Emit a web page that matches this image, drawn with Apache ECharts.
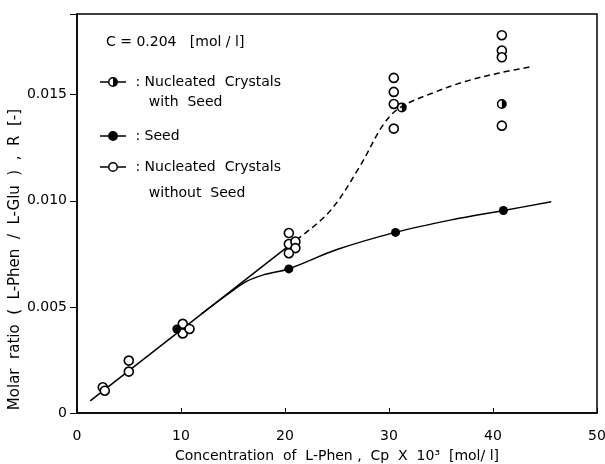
<!DOCTYPE html>
<html>
<head>
<meta charset="utf-8">
<script src="https://cdn.jsdelivr.net/npm/echarts@6/dist/echarts.min.js"></script>
<style>
  html, body { margin: 0; padding: 0; background: #fff; }
  #chart { width: 605px; height: 464px; }
</style>
</head>
<body>
<div id="chart"></div>
<script>
// measured points, x = Cp x 10^3 [mol/l], y = R [-]
const withoutSeedPoints = [
  [2.48, 0.00121], [2.67, 0.00105],
  [4.98, 0.00247], [4.98, 0.00195],
  [10.17, 0.0042], [10.17, 0.00375], [10.82, 0.00396],
  [20.37, 0.00848], [20.37, 0.00796], [21.0, 0.00808], [21.0, 0.00777], [20.37, 0.00753],
  [30.46, 0.01579], [30.46, 0.01513], [30.46, 0.01456], [30.46, 0.0134],
  [40.85, 0.0178], [40.85, 0.01708], [40.85, 0.01676], [40.85, 0.01354]
];
const seedPoints = [[9.6, 0.00396], [20.37, 0.00679], [30.63, 0.00851], [41.0, 0.00954]];
const withSeedPoints = [[31.23, 0.0144], [40.85, 0.01456]];

// hand-drawn trend curves
const linearCurve = [[1.27, 0.00057], [21.1, 0.00816]];
const dashedCurve = [
  [21.1, 0.00816], [24.3, 0.0095], [27.2, 0.01162], [29.4, 0.01355], [31.0, 0.01437],
  [34.2, 0.01508], [37.4, 0.01563], [40.6, 0.01602], [43.5, 0.0163]
];
const seedCurve = [
  [12.0, 0.00468], [14.4, 0.00556], [16.3, 0.0062], [18.0, 0.00652], [20.4, 0.0068],
  [25.0, 0.0077], [30.6, 0.00851], [36.0, 0.0091], [41.0, 0.00954], [45.6, 0.00995]
];

const yTickLabels = { 0: '0', 0.005: '0.005', 0.01: '0.010', 0.015: '0.015' };

const bars = 'M0 4.3H8V5.7H0Z M18 4.3H26V5.7H18Z ';
const ringIcon = 'path://' + bars + 'M8 5A5 5 0 1 1 18 5A5 5 0 1 1 8 5Z M9.5 5A3.5 3.5 0 1 0 16.5 5A3.5 3.5 0 1 0 9.5 5Z';
const dotIcon = 'path://' + bars + 'M8 5A5 5 0 1 1 18 5A5 5 0 1 1 8 5Z';
const halfIcon = ringIcon + ' M13 1.5A3.5 3.5 0 0 1 13 8.5Z';
const halfSymbol = 'path://M0 5A5 5 0 1 1 10 5A5 5 0 1 1 0 5Z M1.5 5A3.5 3.5 0 1 0 8.5 5A3.5 3.5 0 1 0 1.5 5Z M5 1.5A3.5 3.5 0 0 1 5 8.5Z';

const font = 'DejaVu Sans';
const legendBase = {
  orient: 'vertical',
  left: 100,
  padding: 0,
  itemWidth: 26,
  itemHeight: 10,
  selectedMode: false,
  textStyle: { color: '#000', fontSize: 14, fontFamily: font }
};

const chart = echarts.init(document.getElementById('chart'));
chart.setOption({
  animation: false,
  backgroundColor: '#fff',
  textStyle: { fontFamily: font, color: '#000' },
  title: {
    text: 'C = 0.204   [mol / l]',
    left: 106,
    top: 35,
    padding: 0,
    textStyle: { fontSize: 14, fontWeight: 'normal', color: '#000', fontFamily: font }
  },
  legend: [
    {
      ...legendBase,
      top: 52,
      data: [{ name: 'Nucleated Crystals with Seed', icon: halfIcon, itemStyle: { color: '#000', borderWidth: 0 } }],
      // blank first line keeps the first text line level with the icon
      formatter: () => ' \n : Nucleated  Crystals\n    with  Seed',
      textStyle: { ...legendBase.textStyle, lineHeight: 20 }
    },
    {
      ...legendBase,
      top: 126,
      data: [{ name: 'Seed', icon: dotIcon, itemStyle: { color: '#000', borderWidth: 0 } }],
      formatter: () => ' : Seed',
      textStyle: { ...legendBase.textStyle, lineHeight: 20 }
    },
    {
      ...legendBase,
      top: 128,
      data: [{ name: 'Nucleated Crystals without Seed', icon: ringIcon, itemStyle: { color: '#000', borderWidth: 0 } }],
      formatter: () => ' \n : Nucleated  Crystals\n    without  Seed',
      textStyle: { ...legendBase.textStyle, lineHeight: 26 }
    }
  ],
  grid: {
    left: 77,
    right: 8,
    top: 14,
    bottom: 51,
    outerBoundsMode: 'none',
    show: true,
    borderColor: '#000',
    borderWidth: 1.5
  },
  xAxis: {
    type: 'value',
    min: 0,
    max: 50,
    interval: 10,
    name: 'Concentration  of  L-Phen ,  Cp  X  10³  [mol/ l]',
    nameLocation: 'middle',
    nameGap: 36,
    nameTextStyle: { fontSize: 14, color: '#000', fontFamily: font },
    axisLine: { lineStyle: { color: '#000', width: 1.5 } },
    axisTick: { inside: true, length: 5, lineStyle: { color: '#000' } },
    axisLabel: { color: '#000', fontSize: 14, margin: 16 },
    splitLine: { show: false }
  },
  yAxis: {
    type: 'value',
    min: 0,
    max: 0.0188,
    interval: 0.005,
    name: 'Molar  ratio  (  L-Phen  /  L-Glu  )  ,  R  [-]',
    nameLocation: 'middle',
    nameGap: 54,
    nameMoveOverlap: false,
    nameTextStyle: { fontSize: 15, color: '#000', fontFamily: font, padding: [0, 92, 0, 0] },
    axisLine: { lineStyle: { color: '#000', width: 1.5 } },
    axisTick: { length: 7, lineStyle: { color: '#000' } },
    axisLabel: {
      color: '#000',
      fontSize: 14,
      margin: 10,
      formatter: (v) => yTickLabels[Math.round(v * 1000) / 1000] ?? ''
    },
    splitLine: { show: false }
  },
  series: [
    {
      name: 'linear',
      type: 'line',
      data: linearCurve,
      symbol: 'none',
      lineStyle: { color: '#000', width: 1.5 },
      z: 1
    },
    {
      name: 'dashed',
      type: 'line',
      data: dashedCurve,
      smooth: 0.35,
      symbol: 'none',
      lineStyle: { color: '#000', width: 1.5, type: [6, 4] },
      z: 1
    },
    {
      name: 'seedCurve',
      type: 'line',
      data: seedCurve,
      smooth: 0.35,
      symbol: 'none',
      lineStyle: { color: '#000', width: 1.5 },
      z: 1
    },
    {
      name: 'Nucleated Crystals without Seed',
      type: 'scatter',
      data: withoutSeedPoints,
      symbol: 'circle',
      symbolSize: 9,
      itemStyle: { color: '#fff', borderColor: '#000', borderWidth: 1.6, opacity: 1 },
      z: 3
    },
    {
      name: 'Seed',
      type: 'scatter',
      data: seedPoints,
      symbol: 'circle',
      symbolSize: 9,
      itemStyle: { color: '#000', opacity: 1 },
      z: 4
    },
    {
      name: 'Nucleated Crystals with Seed',
      type: 'scatter',
      data: withSeedPoints,
      symbol: halfSymbol,
      symbolSize: 10,
      itemStyle: { color: '#000', opacity: 1 },
      z: 4
    }
  ]
});
</script>
</body>
</html>
